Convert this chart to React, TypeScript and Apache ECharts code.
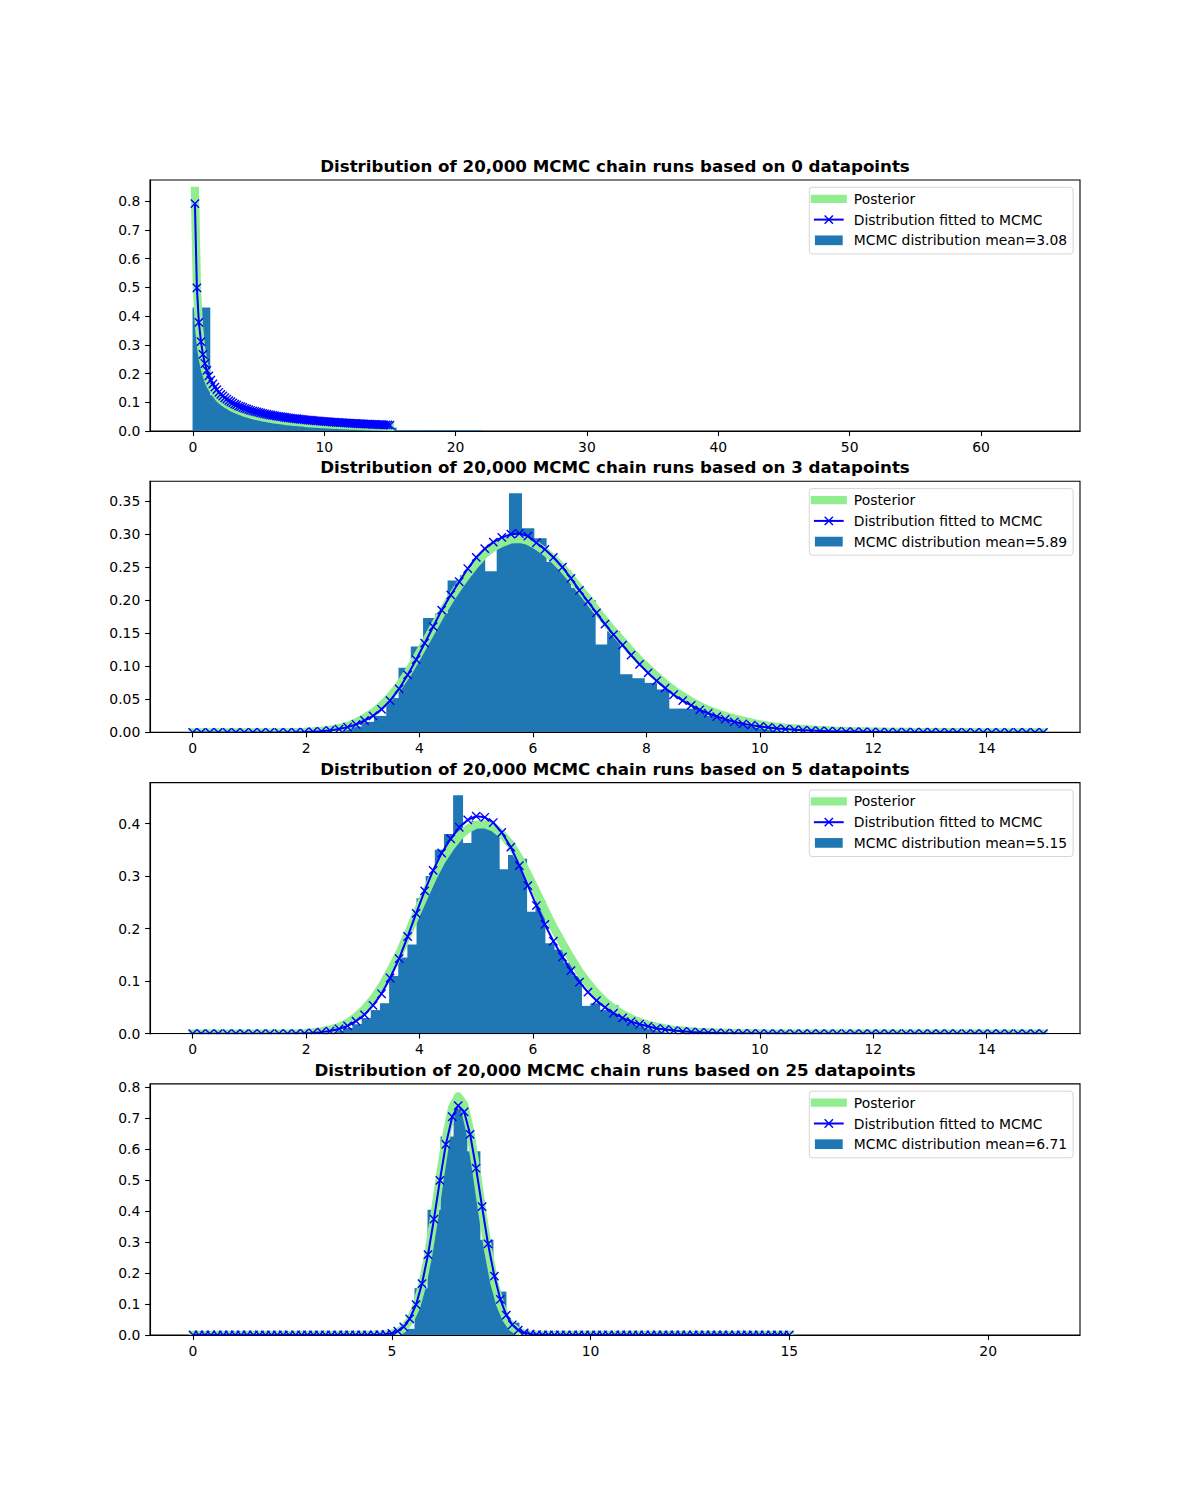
import React, { useEffect, useRef } from "react";
import * as echarts from "echarts";

// ---------- shared evaluation grid of the two curves (x values) ----------
const X_GRID = [
  0.0, 0.15, 0.3, 0.45, 0.61, 0.76, 0.91, 1.06, 1.21, 1.36,
  1.52, 1.67, 1.82, 1.97, 2.12, 2.27, 2.42, 2.58, 2.73, 2.88,
  3.03, 3.18, 3.33, 3.48, 3.64, 3.79, 3.94, 4.09, 4.24, 4.39,
  4.55, 4.7, 4.85, 5.0, 5.15, 5.3, 5.45, 5.61, 5.76, 5.91,
  6.06, 6.21, 6.36, 6.52, 6.67, 6.82, 6.97, 7.12, 7.27, 7.42,
  7.58, 7.73, 7.88, 8.03, 8.18, 8.33, 8.48, 8.64, 8.79, 8.94,
  9.09, 9.24, 9.39, 9.55, 9.7, 9.85, 10.0, 10.15, 10.3, 10.45,
  10.61, 10.76, 10.91, 11.06, 11.21, 11.36, 11.52, 11.67, 11.82, 11.97,
  12.12, 12.27, 12.42, 12.58, 12.73, 12.88, 13.03, 13.18, 13.33, 13.48,
  13.64, 13.79, 13.94, 14.09, 14.24, 14.39, 14.55, 14.7, 14.85, 15.0,
];

// ---------- panel 1: 0 datapoints ----------
const P1_POSTERIOR = [
  null, 0.835, 0.5, 0.37, 0.295, 0.25, 0.215, 0.192, 0.172, 0.157,
  0.145, 0.134, 0.125, 0.116, 0.109, 0.103, 0.098, 0.093, 0.089, 0.085,
  0.081, 0.078, 0.075, 0.072, 0.069, 0.067, 0.064, 0.062, 0.06, 0.058,
  0.056, 0.054, 0.053, 0.051, 0.05, 0.048, 0.047, 0.046, 0.044, 0.043,
  0.042, 0.041, 0.04, 0.039, 0.038, 0.037, 0.036, 0.035, 0.035, 0.034,
  0.033, 0.032, 0.032, 0.031, 0.03, 0.03, 0.029, 0.028, 0.028, 0.027,
  0.027, 0.026, 0.026, 0.025, 0.025, 0.024, 0.024, 0.0236, 0.0232, 0.0228,
  0.0224, 0.022, 0.0216, 0.0213, 0.021, 0.0207, 0.0204, 0.0201, 0.0198, 0.0195,
  0.0192, 0.0189, 0.0187, 0.0184, 0.0182, 0.018, 0.0177, 0.0175, 0.0173, 0.0171,
  0.0169, 0.0167, 0.0165, 0.0163, 0.0161, 0.0159, 0.0157, 0.0155, 0.0153, 0.0151,
];
const P1_FITTED = [
  null, 0.791, 0.498, 0.378, 0.311, 0.267, 0.235, 0.211, 0.192, 0.177,
  0.164, 0.153, 0.144, 0.135, 0.128, 0.122, 0.116, 0.111, 0.106, 0.102,
  0.098, 0.094, 0.091, 0.087, 0.085, 0.082, 0.079, 0.077, 0.0745, 0.0724,
  0.0703, 0.0684, 0.0666, 0.0649, 0.0632, 0.0616, 0.0601, 0.0586, 0.0573, 0.056,
  0.0547, 0.0535, 0.0523, 0.0512, 0.0501, 0.0491, 0.0482, 0.0472, 0.0463, 0.0454,
  0.0445, 0.0437, 0.0429, 0.042, 0.0412, 0.0405, 0.0398, 0.0391, 0.0384, 0.0377,
  0.0371, 0.0365, 0.0359, 0.0353, 0.0347, 0.0341, 0.0336, 0.0331, 0.0326, 0.032,
  0.0315, 0.0311, 0.0306, 0.0302, 0.0297, 0.0293, 0.0289, 0.0284, 0.028, 0.0276,
  0.0272, 0.0268, 0.0264, 0.026, 0.0256, 0.0253, 0.0249, 0.0246, 0.0243, 0.024,
  0.0237, 0.0234, 0.0231, 0.0228, 0.0225, 0.0222, 0.0219, 0.0216, 0.0213, 0.0211,
];
const P1_HIST_START = 0;
const P1_HIST_WIDTH = 0.645;
const P1_HIST = [
  0.43, 0.43, 0.125, 0.095, 0.078, 0.066, 0.057, 0.05, 0.045, 0.041,
  0.037, 0.034, 0.031, 0.029, 0.026, 0.024, 0.022, 0.021, 0.019, 0.018,
  0.017, 0.016, 0.015, 0.012, 0.003, 0.003, 0.003, 0.003, 0.003, 0.003,
  0.003, 0.003, 0.003, 0.003,
];
const P1_X_TICKS = [0, 10, 20, 30, 40, 50, 60];
const P1_Y_TICKS = [0, 0.1, 0.2, 0.3, 0.4, 0.5, 0.6, 0.7, 0.8];

// ---------- panel 2: 3 datapoints ----------
const P2_POSTERIOR = [
  0, 0, 0, 0, 0, 0, 0, 0, 0, 0,
  0, 0, 0.0005, 0.0008, 0.0014, 0.0024, 0.004, 0.0065, 0.01, 0.015,
  0.022, 0.03, 0.041, 0.054, 0.071, 0.09, 0.112, 0.135, 0.158, 0.181,
  0.203, 0.222, 0.24, 0.256, 0.27, 0.28, 0.287, 0.292, 0.293, 0.29,
  0.283, 0.274, 0.263, 0.249, 0.234, 0.218, 0.202, 0.185, 0.169, 0.153,
  0.138, 0.123, 0.109, 0.097, 0.085, 0.074, 0.064, 0.055, 0.047, 0.04,
  0.034, 0.029, 0.025, 0.021, 0.018, 0.015, 0.012, 0.01, 0.0085, 0.007,
  0.006, 0.005, 0.0042, 0.0035, 0.0029, 0.0024, 0.002, 0.0017, 0.0014, 0.0012,
  0.001, 0.0008, 0.0007, 0.0006, 0.0005, 0.0004, 0.0003, 0.0003, 0.0002, 0.0002,
  0.0002, 0.0001, 0.0001, 0.0001, 0.0001, 0.0001, 0, 0, 0, 0,
];
const P2_FITTED = [
  0, 0, 0, 0, 0, 0, 0, 0, 0, 0,
  0, 0, 0, 0.0005, 0.001, 0.0017, 0.003, 0.005, 0.008, 0.012,
  0.018, 0.025, 0.035, 0.048, 0.066, 0.087, 0.11, 0.135, 0.16, 0.185,
  0.208, 0.228, 0.248, 0.265, 0.278, 0.288, 0.295, 0.3, 0.301, 0.297,
  0.287, 0.277, 0.265, 0.25, 0.233, 0.215, 0.198, 0.181, 0.164, 0.148,
  0.132, 0.117, 0.103, 0.09, 0.078, 0.067, 0.057, 0.048, 0.041, 0.034,
  0.029, 0.024, 0.02, 0.016, 0.013, 0.011, 0.009, 0.0075, 0.006, 0.005,
  0.004, 0.0033, 0.0027, 0.0022, 0.0018, 0.0015, 0.0012, 0.001, 0.0008, 0.0006,
  0.0005, 0.0004, 0.0003, 0.0003, 0.0002, 0.0002, 0.0002, 0.0001, 0.0001, 0.0001,
  0, 0, 0, 0, 0, 0, 0, 0, 0, 0,
];
const P2_HIST_START = 1.905;
const P2_HIST_WIDTH = 0.2164;
const P2_HIST = [
  0.0002, 0.0005, 0.002, 0.004, 0.009, 0.016, 0.025, 0.052, 0.098, 0.13,
  0.173, 0.18, 0.23, 0.238, 0.262, 0.244, 0.285, 0.362, 0.309, 0.294,
  0.258, 0.245, 0.219, 0.2, 0.133, 0.153, 0.088, 0.082, 0.075, 0.065,
  0.036, 0.036, 0.039, 0.025, 0.02, 0.015, 0.012, 0.009, 0.007, 0.005,
  0.004, 0.003, 0.002, 0.0015, 0.001, 0.0008, 0.0005, 0.0003, 0.0002, 0.0002,
];
const P2_X_TICKS = [0, 2, 4, 6, 8, 10, 12, 14];
const P2_Y_TICKS = [0, 0.05, 0.1, 0.15, 0.2, 0.25, 0.3, 0.35];

// ---------- panel 3: 5 datapoints ----------
const P3_POSTERIOR = [
  0, 0, 0, 0, 0, 0, 0, 0, 0, 0,
  0, 0, 0.0006, 0.0012, 0.0024, 0.0045, 0.008, 0.013, 0.021, 0.032,
  0.047, 0.066, 0.09, 0.119, 0.152, 0.189, 0.227, 0.264, 0.299, 0.33,
  0.356, 0.376, 0.39, 0.398, 0.399, 0.393, 0.38, 0.36, 0.334, 0.303,
  0.27, 0.236, 0.203, 0.172, 0.144, 0.118, 0.096, 0.077, 0.061, 0.048,
  0.037, 0.029, 0.022, 0.017, 0.013, 0.01, 0.0075, 0.0057, 0.0043, 0.0032,
  0.0024, 0.0018, 0.0013, 0.001, 0.0007, 0.0005, 0.0004, 0.0003, 0.0002, 0.0002,
  0.0001, 0, 0, 0, 0, 0, 0, 0, 0, 0,
  0, 0, 0, 0, 0, 0, 0, 0, 0, 0,
  0, 0, 0, 0, 0, 0, 0, 0, 0, 0,
];
const P3_FITTED = [
  0, 0, 0, 0, 0, 0, 0, 0, 0, 0,
  0, 0, 0.0003, 0.0007, 0.0015, 0.003, 0.005, 0.009, 0.015, 0.024,
  0.036, 0.054, 0.076, 0.106, 0.143, 0.185, 0.229, 0.272, 0.311, 0.344,
  0.371, 0.393, 0.407, 0.414, 0.412, 0.402, 0.383, 0.355, 0.32, 0.282,
  0.244, 0.208, 0.176, 0.146, 0.12, 0.098, 0.079, 0.063, 0.05, 0.039,
  0.03, 0.023, 0.018, 0.014, 0.01, 0.008, 0.006, 0.0045, 0.0033, 0.0025,
  0.0018, 0.0013, 0.001, 0.0007, 0.0005, 0.0004, 0.0003, 0.0002, 0.0002, 0.0001,
  0, 0, 0, 0, 0, 0, 0, 0, 0, 0,
  0, 0, 0, 0, 0, 0, 0, 0, 0, 0,
  0, 0, 0, 0, 0, 0, 0, 0, 0, 0,
];
const P3_HIST_START = 1.857;
const P3_HIST_WIDTH = 0.1613;
const P3_HIST = [
  0.0003, 0.0007, 0.0015, 0.003, 0.006, 0.011, 0.018, 0.03, 0.045, 0.058,
  0.11, 0.145, 0.17, 0.258, 0.3, 0.35, 0.38, 0.454, 0.363, 0.405,
  0.4, 0.394, 0.313, 0.34, 0.333, 0.232, 0.253, 0.172, 0.16, 0.135,
  0.11, 0.053, 0.058, 0.045, 0.054, 0.03, 0.024, 0.018, 0.013, 0.01,
  0.007, 0.005, 0.004, 0.003, 0.002, 0.0015, 0.001, 0.0007, 0.0004, 0.0003,
];
const P3_X_TICKS = [0, 2, 4, 6, 8, 10, 12, 14];
const P3_Y_TICKS = [0, 0.1, 0.2, 0.3, 0.4];

// ---------- panel 4: 25 datapoints ----------
const P4_POSTERIOR = [
  0, 0, 0, 0, 0, 0, 0, 0, 0, 0,
  0, 0, 0, 0, 0, 0, 0, 0, 0, 0,
  0, 0, 0, 0, 0, 0, 0, 0, 0, 0,
  0, 0.0005, 0.0015, 0.004, 0.0099, 0.022, 0.046, 0.09, 0.159, 0.254,
  0.375, 0.509, 0.635, 0.734, 0.77, 0.743, 0.658, 0.537, 0.402, 0.277,
  0.169, 0.098, 0.052, 0.025, 0.0115, 0.0048, 0.0018, 0.0006, 0.0002, 0.0001,
  0, 0, 0, 0, 0, 0, 0, 0, 0, 0,
  0, 0, 0, 0, 0, 0, 0, 0, 0, 0,
  0, 0, 0, 0, 0, 0, 0, 0, 0, 0,
  0, 0, 0, 0, 0, 0, 0, 0, 0, 0,
];
const P4_FITTED = [
  0, 0, 0, 0, 0, 0, 0, 0, 0, 0,
  0, 0, 0, 0, 0, 0, 0, 0, 0, 0,
  0, 0, 0, 0, 0, 0, 0, 0, 0, 0,
  0.0003, 0.0008, 0.002, 0.0054, 0.0124, 0.0265, 0.052, 0.098, 0.166, 0.259,
  0.374, 0.499, 0.615, 0.704, 0.74, 0.72, 0.647, 0.538, 0.414, 0.294,
  0.19, 0.115, 0.064, 0.033, 0.016, 0.007, 0.003, 0.001, 0.0005, 0.0002,
  0, 0, 0, 0, 0, 0, 0, 0, 0, 0,
  0, 0, 0, 0, 0, 0, 0, 0, 0, 0,
  0, 0, 0, 0, 0, 0, 0, 0, 0, 0,
  0, 0, 0, 0, 0, 0, 0, 0, 0, 0,
];
const P4_HIST_START = 4.926;
const P4_HIST_WIDTH = 0.3275;
const P4_HIST = [
  0.005, 0.02, 0.151, 0.404, 0.64, 0.73, 0.593, 0.307, 0.14, 0.04,
  0.01, 0.003, 0, 0, 0, 0, 0, 0, 0, 0,
  0, 0, 0, 0, 0, 0, 0, 0, 0, 0,
  0, 0, 0, 0, 0, 0, 0, 0, 0, 0,
  0, 0, 0, 0, 0, 0, 0, 0, 0, 0.0002,
];
const P4_X_TICKS = [0, 5, 10, 15, 20];
const P4_Y_TICKS = [0, 0.1, 0.2, 0.3, 0.4, 0.5, 0.6, 0.7, 0.8];

const TITLES = [
  "Distribution of 20,000 MCMC chain runs based on 0 datapoints",
  "Distribution of 20,000 MCMC chain runs based on 3 datapoints",
  "Distribution of 20,000 MCMC chain runs based on 5 datapoints",
  "Distribution of 20,000 MCMC chain runs based on 25 datapoints",
];
const MEANS = ["3.08", "5.89", "5.15", "6.71"];
const LEGEND_LABELS = ["Posterior", "Distribution fitted to MCMC", "MCMC distribution mean="];

// ---------- styling / layout ----------
const FONT = "DejaVu Sans";
const TICK_FS = 13.9;
const TITLE_FS = 16.67;
const AX_LEFT = 150;
const AX_RIGHT = 1080;
const AX_H = 251.1;
const AX_TOPS = [180, 481.3, 782.6, 1083.9];
const GREEN = "#90ee90";
const BLUE = "#0000ff";
const HIST_COLOR = "#1f77b4";

const PANELS = [
  { post: P1_POSTERIOR, fit: P1_FITTED, hist: P1_HIST, hs: P1_HIST_START, hw: P1_HIST_WIDTH, xMin: -3.27, xMax: 67.54, xTicks: P1_X_TICKS, yMax: 0.873, yTicks: P1_Y_TICKS, yDec: 1 },
  { post: P2_POSTERIOR, fit: P2_FITTED, hist: P2_HIST, hs: P2_HIST_START, hw: P2_HIST_WIDTH, xMin: -0.753, xMax: 15.646, xTicks: P2_X_TICKS, yMax: 0.38, yTicks: P2_Y_TICKS, yDec: 2 },
  { post: P3_POSTERIOR, fit: P3_FITTED, hist: P3_HIST, hs: P3_HIST_START, hw: P3_HIST_WIDTH, xMin: -0.753, xMax: 15.646, xTicks: P3_X_TICKS, yMax: 0.478, yTicks: P3_Y_TICKS, yDec: 1 },
  { post: P4_POSTERIOR, fit: P4_FITTED, hist: P4_HIST, hs: P4_HIST_START, hw: P4_HIST_WIDTH, xMin: -1.082, xMax: 22.31, xTicks: P4_X_TICKS, yMax: 0.81, yTicks: P4_Y_TICKS, yDec: 1 },
];

function buildOption() {
  const grid: any[] = [];
  const xAxis: any[] = [];
  const yAxis: any[] = [];
  const series: any[] = [];
  const graphic: any[] = [];
  const tickStyle = { color: "#000", width: 1.1 };

  PANELS.forEach((p, i) => {
    const top = AX_TOPS[i];
    const bottom = top + AX_H;
    grid.push({
      left: AX_LEFT, top, width: AX_RIGHT - AX_LEFT, height: AX_H,
      show: true, borderColor: "#000", borderWidth: 1.1, backgroundColor: "transparent",
    });
    xAxis.push({
      type: "value", gridIndex: i, min: p.xMin, max: p.xMax, z: 10,
      axisLine: { show: true, onZero: false, lineStyle: tickStyle },
      axisTick: { show: true, customValues: p.xTicks, length: 4.9, lineStyle: tickStyle },
      axisLabel: {
        show: true, customValues: p.xTicks, margin: 8.5, color: "#000",
        fontFamily: FONT, fontSize: TICK_FS, formatter: (v: number) => String(v),
      },
      splitLine: { show: false },
    });
    yAxis.push({
      type: "value", gridIndex: i, min: 0, max: p.yMax, z: 10,
      axisLine: { show: true, onZero: false, lineStyle: tickStyle },
      axisTick: { show: true, customValues: p.yTicks, length: 4.9, lineStyle: tickStyle },
      axisLabel: {
        show: true, customValues: p.yTicks, margin: 9.7, color: "#000",
        fontFamily: FONT, fontSize: TICK_FS, formatter: (v: number) => v.toFixed(p.yDec),
      },
      splitLine: { show: false },
    });

    // histogram (MCMC distribution)
    const histData = p.hist
      .map((h, j) => [p.hs + j * p.hw, p.hs + (j + 1) * p.hw, h])
      .filter((d) => d[2] > 0);
    series.push({
      type: "custom", name: "MCMC distribution", xAxisIndex: i, yAxisIndex: i, z: 2, silent: true,
      data: histData, encode: { x: [0, 1], y: 2 },
      renderItem: (_params: any, api: any) => {
        const a = api.coord([api.value(0), 0]);
        const b = api.coord([api.value(1), api.value(2)]);
        // slight overlap so adjacent bars fill seamlessly (no anti-aliasing seams)
        return {
          type: "rect",
          shape: { x: a[0] - 0.4, y: b[1], width: b[0] - a[0] + 0.8, height: a[1] - b[1] },
          style: { fill: HIST_COLOR },
        };
      },
    });

    // posterior (thick green)
    series.push({
      type: "line", name: "Posterior", xAxisIndex: i, yAxisIndex: i, z: 3, silent: true,
      data: X_GRID.map((x, k) => [x, p.post[k]]).filter((d) => d[1] !== null),
      showSymbol: false, symbol: "none",
      lineStyle: { color: GREEN, width: 8.3, cap: "square", join: "round" },
    });

    // fitted (blue with x markers)
    series.push({
      type: "line", name: "Distribution fitted to MCMC", xAxisIndex: i, yAxisIndex: i, z: 4, silent: true,
      data: X_GRID.map((x, k) => [x, p.fit[k]]).filter((d) => d[1] !== null),
      symbol: "path://M0,0L10,10M10,0L0,10", symbolSize: 8.3, showAllSymbol: true, showSymbol: true,
      itemStyle: { color: BLUE, borderColor: BLUE, borderWidth: 1.4 },
      lineStyle: { color: BLUE, width: 2, join: "round" },
    });

    // white mask below axes (matplotlib clips lines at the axes box)
    graphic.push({
      type: "rect", z: 6, silent: true,
      shape: { x: AX_LEFT + 0.6, y: bottom + 0.6, width: AX_RIGHT - AX_LEFT - 1.2, height: 5 },
      style: { fill: "#fff" },
    });

    // title
    graphic.push({
      type: "text", x: (AX_LEFT + AX_RIGHT) / 2, y: top - 13.5, z: 30,
      style: {
        text: TITLES[i], fill: "#000", fontFamily: FONT, fontSize: TITLE_FS, fontWeight: "bold",
        align: "center", verticalAlign: "middle", textAlign: "center", textVerticalAlign: "middle",
      },
    });

    // legend
    const boxX = 809.3;
    const boxY = top + 7.3;
    const boxW = AX_RIGHT - 6.9 - boxX;
    const boxH = 66.6;
    const hx0 = boxX + 5.6;
    const hx1 = hx0 + 27.8;
    const rows = [boxY + 11.5, boxY + 32.3, boxY + 53];
    const tx = hx1 + 11.1;
    const cx = (hx0 + hx1) / 2;
    graphic.push({
      type: "rect", z: 20, silent: true,
      shape: { x: boxX, y: boxY, width: boxW, height: boxH, r: 2.8 },
      style: { fill: "rgba(255,255,255,0.8)", stroke: "#d6d6d6", lineWidth: 1 },
    });
    graphic.push({
      type: "line", z: 21, silent: true,
      shape: { x1: hx0, y1: rows[0], x2: hx1, y2: rows[0] },
      style: { stroke: GREEN, lineWidth: 8.3, lineCap: "square" },
    });
    graphic.push({
      type: "line", z: 21, silent: true,
      shape: { x1: hx0, y1: rows[1], x2: hx1, y2: rows[1] },
      style: { stroke: BLUE, lineWidth: 2, lineCap: "square" },
    });
    graphic.push({
      type: "line", z: 22, silent: true,
      shape: { x1: cx - 4.15, y1: rows[1] - 4.15, x2: cx + 4.15, y2: rows[1] + 4.15 },
      style: { stroke: BLUE, lineWidth: 1.4 },
    });
    graphic.push({
      type: "line", z: 22, silent: true,
      shape: { x1: cx - 4.15, y1: rows[1] + 4.15, x2: cx + 4.15, y2: rows[1] - 4.15 },
      style: { stroke: BLUE, lineWidth: 1.4 },
    });
    graphic.push({
      type: "rect", z: 21, silent: true,
      shape: { x: hx0, y: rows[2] - 4.86, width: 27.8, height: 9.72 },
      style: { fill: HIST_COLOR },
    });
    const labels = [LEGEND_LABELS[0], LEGEND_LABELS[1], LEGEND_LABELS[2] + MEANS[i]];
    labels.forEach((t, r) => {
      graphic.push({
        type: "text", x: tx, y: rows[r], z: 22, silent: true,
        style: {
          text: t, fill: "#000", fontFamily: FONT, fontSize: TICK_FS,
          align: "left", verticalAlign: "middle", textAlign: "left", textVerticalAlign: "middle",
        },
      });
    });
  });

  return {
    animation: false,
    backgroundColor: "#ffffff",
    textStyle: { fontFamily: FONT },
    grid, xAxis, yAxis, series, graphic,
  };
}

export default function App() {
  const ref = useRef<HTMLDivElement>(null);
  useEffect(() => {
    if (!ref.current) return;
    const chart = echarts.init(ref.current, undefined, { renderer: "svg" });
    chart.setOption(buildOption() as any);
    return () => chart.dispose();
  }, []);
  return (
    <div
      ref={ref}
      style={{ position: "absolute", left: 0, top: 0, width: 1200, height: 1500, background: "#fff" }}
    />
  );
}
